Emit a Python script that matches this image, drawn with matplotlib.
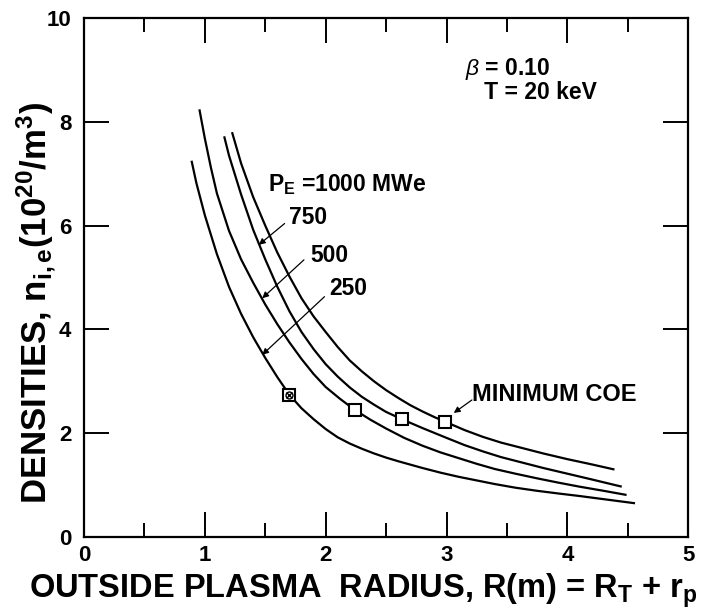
import matplotlib
matplotlib.use('Agg')
import matplotlib.pyplot as plt
from matplotlib.ticker import MultipleLocator

plt.rcParams['font.family'] = ['Liberation Sans', 'DejaVu Sans']
plt.rcParams['mathtext.fontset'] = 'custom'
plt.rcParams['mathtext.rm'] = 'Liberation Sans'
plt.rcParams['mathtext.it'] = 'Liberation Sans:italic'
plt.rcParams['mathtext.bf'] = 'Liberation Sans:bold'
plt.rcParams['mathtext.default'] = 'regular'

# ---- data ----
r_1000 = [1.225, 1.30, 1.40, 1.50, 1.60, 1.70, 1.80, 1.90, 2.00, 2.10, 2.20,
          2.30, 2.40, 2.50, 2.60, 2.70, 2.80, 2.90, 3.00, 3.15, 3.30, 3.45,
          3.60, 3.80, 4.00, 4.20, 4.39]
n_1000 = [7.80, 7.20, 6.55, 6.00, 5.48, 5.02, 4.60, 4.25, 3.95, 3.66, 3.40,
          3.19, 3.00, 2.83, 2.68, 2.54, 2.42, 2.31, 2.21, 2.06, 1.93, 1.82,
          1.73, 1.61, 1.50, 1.40, 1.30]

r_750 = [1.16, 1.20, 1.30, 1.40, 1.50, 1.60, 1.70, 1.80, 1.90, 2.00, 2.10,
         2.20, 2.30, 2.40, 2.50, 2.63, 2.80, 3.00, 3.15, 3.30, 3.45, 3.60,
         3.80, 4.00, 4.20, 4.45]
n_750 = [7.72, 7.35, 6.60, 5.92, 5.35, 4.82, 4.35, 3.95, 3.62, 3.33, 3.09,
         2.88, 2.70, 2.55, 2.41, 2.27, 2.10, 1.91, 1.77, 1.65, 1.54, 1.45,
         1.33, 1.22, 1.11, 0.97]

r_500 = [0.955, 1.00, 1.05, 1.10, 1.20, 1.30, 1.40, 1.50, 1.60, 1.70, 1.80,
         1.90, 2.00, 2.12, 2.24, 2.37, 2.50, 2.65, 2.80, 2.95, 3.10, 3.25,
         3.40, 3.57, 3.75, 3.92, 4.10, 4.30, 4.49]
n_500 = [8.24, 7.68, 7.12, 6.62, 5.90, 5.35, 4.90, 4.48, 4.10, 3.75, 3.43,
         3.14, 2.89, 2.66, 2.45, 2.26, 2.09, 1.91, 1.76, 1.63, 1.52, 1.41,
         1.31, 1.22, 1.13, 1.05, 0.97, 0.89, 0.81]

r_250 = [0.89, 0.93, 1.00, 1.10, 1.20, 1.30, 1.40, 1.50, 1.60, 1.70, 1.80,
         1.90, 2.00, 2.10, 2.20, 2.30, 2.40, 2.50, 2.60, 2.80, 2.95, 3.10,
         3.25, 3.40, 3.57, 3.75, 3.92, 4.10, 4.33, 4.56]
n_250 = [7.25, 6.82, 6.20, 5.45, 4.82, 4.30, 3.85, 3.45, 3.08, 2.74, 2.48,
         2.27, 2.08, 1.92, 1.80, 1.70, 1.61, 1.53, 1.46, 1.33, 1.24, 1.16,
         1.09, 1.02, 0.95, 0.89, 0.84, 0.79, 0.72, 0.65]

coe_r = [1.70, 2.24, 2.63, 2.99]
coe_n = [2.74, 2.45, 2.27, 2.21]

x_ticks = [0, 1, 2, 3, 4, 5]
y_ticks = [0, 2, 4, 6, 8, 10]

fig = plt.figure(figsize=(7.1, 6.14), dpi=100)
ax = fig.add_axes([0.1183, 0.1254, 0.8510, 0.8453])

for r, n in [(r_1000, n_1000), (r_750, n_750), (r_500, n_500), (r_250, n_250)]:
    ax.plot(r, n, color='black', lw=1.6, solid_capstyle='butt',
            solid_joinstyle='round')

# minimum COE markers
ax.plot(coe_r[1:], coe_n[1:], ls='none', marker='s', ms=9, mfc='white',
        mec='black', mew=1.5, zorder=5)
ax.plot(coe_r[:1], coe_n[:1], ls='none', marker='s', ms=8, mfc='white',
        mec='black', mew=1.5, zorder=5)
ax.plot(coe_r[:1], coe_n[:1], ls='none', marker='o', ms=5, mfc='none',
        mec='black', mew=1.0, zorder=6)
ax.plot(coe_r[:1], coe_n[:1], ls='none', marker='x', ms=4,
        mec='black', mew=1.0, zorder=6)

ax.set_xlim(0, 5)
ax.set_ylim(0, 10)
ax.set_xticks(x_ticks)
ax.set_yticks(y_ticks)
ax.xaxis.set_minor_locator(MultipleLocator(0.5))
ax.tick_params(which='major', direction='in', length=18, width=1.4,
               top=True, right=True, labelsize=16)
ax.tick_params(axis='y', which='major', pad=9)
ax.tick_params(axis='x', which='major', pad=6)
ax.tick_params(which='minor', direction='in', length=10, width=1.4,
               top=True, right=False)
ax.tick_params(axis='y', which='minor', left=False, right=False)
for lab in ax.get_xticklabels() + ax.get_yticklabels():
    lab.set_fontweight('bold')
for s in ax.spines.values():
    s.set_linewidth(1.6)

# text annotations
ax.text(3.15, 8.81, '$\\mathit{\\beta}$ = 0.10\n   T = 20 keV', fontsize=16.5,
        fontweight='bold', va='center', ha='left', linespacing=0.95)
ax.text(1.52, 6.80, 'P$_E$ =1000 MWe', fontsize=16.5, fontweight='bold',
        va='center', ha='left')
ax.text(1.70, 6.15, '750', fontsize=16.5, fontweight='bold', va='center', ha='left')
ax.text(1.87, 5.43, '500', fontsize=16.5, fontweight='bold', va='center', ha='left')
ax.text(2.03, 4.78, '250', fontsize=16.5, fontweight='bold', va='center', ha='left')
ax.text(3.21, 2.74, 'MINIMUM COE', fontsize=17, fontweight='bold',
        va='center', ha='left')

arrow_kw = dict(arrowstyle='-|>', lw=0.9, color='black', mutation_scale=9,
                shrinkA=0, shrinkB=0)
ax.annotate('', xy=(1.447, 5.63), xytext=(1.66, 6.04), arrowprops=arrow_kw)
ax.annotate('', xy=(1.475, 4.60), xytext=(1.82, 5.34), arrowprops=arrow_kw)
ax.annotate('', xy=(1.475, 3.51), xytext=(1.99, 4.63), arrowprops=arrow_kw)
ax.annotate('', xy=(3.06, 2.39), xytext=(3.21, 2.64), arrowprops=arrow_kw)

fig.text(37 / 710, 1 - 303 / 614,
         'DENSITIES, n$_{i,e}$(10$^{20}$/m$^{3}$)', rotation=90,
         fontsize=25, fontweight='bold', ha='center', va='center')
fig.text(363 / 710, 1 - 598 / 614,
         'OUTSIDE PLASMA  RADIUS, R(m) = R$_T$ + r$_p$',
         fontsize=23.5, fontweight='bold', ha='center', va='baseline')

fig.savefig('out.png', dpi=100)
